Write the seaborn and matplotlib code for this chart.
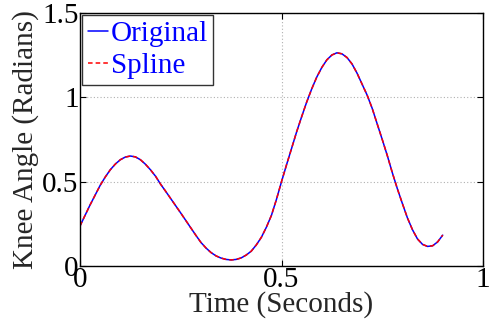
import matplotlib
matplotlib.use("Agg")
import matplotlib.pyplot as plt
import seaborn as sns
import pandas as pd

time_s = [0.0000, 0.0125, 0.0250, 0.0375, 0.0500, 0.0625, 0.0750, 0.0875, 0.1000, 0.1125,
          0.1250, 0.1375, 0.1500, 0.1625, 0.1750, 0.1875, 0.2000, 0.2125, 0.2250, 0.2375,
          0.2500, 0.2625, 0.2750, 0.2875, 0.3000, 0.3125, 0.3250, 0.3375, 0.3500, 0.3625,
          0.3750, 0.3875, 0.4000, 0.4125, 0.4250, 0.4375, 0.4500, 0.4625, 0.4750, 0.4875,
          0.5000, 0.5125, 0.5250, 0.5375, 0.5500, 0.5625, 0.5750, 0.5875, 0.6000, 0.6125,
          0.6250, 0.6375, 0.6500, 0.6625, 0.6750, 0.6875, 0.7000, 0.7125, 0.7250, 0.7375,
          0.7500, 0.7625, 0.7750, 0.7875, 0.8000, 0.8125, 0.8250, 0.8375, 0.8500, 0.8625,
          0.8750, 0.8875, 0.9000]
angle_original = [0.237, 0.300, 0.362, 0.420, 0.478, 0.527, 0.570, 0.604, 0.630, 0.646,
                  0.652, 0.647, 0.630, 0.603, 0.570, 0.532, 0.485, 0.443, 0.400, 0.357,
                  0.314, 0.270, 0.226, 0.182, 0.140, 0.107, 0.080, 0.060, 0.047, 0.039,
                  0.036, 0.039, 0.048, 0.065, 0.088, 0.125, 0.170, 0.230, 0.300, 0.395,
                  0.500, 0.600, 0.697, 0.795, 0.885, 0.972, 1.050, 1.120, 1.177, 1.222,
                  1.251, 1.264, 1.258, 1.236, 1.198, 1.143, 1.078, 1.013, 0.935, 0.842,
                  0.750, 0.655, 0.553, 0.458, 0.370, 0.285, 0.215, 0.160, 0.128, 0.116,
                  0.120, 0.143, 0.183]
angle_spline = list(angle_original)

series_names = ["Original", "Spline"]
xticks = [0, 0.5, 1]
yticks = [0, 0.5, 1, 1.5]

sns.set_theme(style="white")
plt.rcParams["font.family"] = ["Liberation Serif", "DejaVu Serif"]

df = pd.DataFrame({
    "t": time_s * 2,
    "angle": angle_original + angle_spline,
    "series": [series_names[0]] * len(time_s) + [series_names[1]] * len(time_s),
})

fig = plt.figure(figsize=(4.9, 3.28), dpi=100)
ax = fig.add_axes([80 / 490, 1 - 266 / 328, 403 / 490, 253 / 328])

sns.lineplot(data=df, x="t", y="angle", hue="series", style="series",
             palette={"Original": "#0000ff", "Spline": "#ff0000"},
             dashes={"Original": "", "Spline": (3, 2)},
             linewidth=1.1, ax=ax, legend=True)

ax.set_xlim(0, 1)
ax.set_ylim(0, 1.5)
ax.set_xticks(xticks)
ax.set_xticklabels(["0", "0.5", "1"])
ax.set_yticks(yticks)
ax.set_yticklabels(["0", "0.5", "1", "1.5"])
ax.grid(True, linestyle=(0, (1, 2)), color="#b0b0b0", linewidth=0.8)
ax.tick_params(direction="in", length=4, width=0.8, labelsize=21,
               top=True, right=True, bottom=True, left=True, colors="black", pad=1)
for s in ax.spines.values():
    s.set_color("black")
    s.set_linewidth(1.0)

ax.set_xlabel("Time (Seconds)", fontsize=21, labelpad=-2)
ax.set_ylabel("Knee Angle (Radians)", fontsize=21, labelpad=2)

leg = ax.legend(loc="upper left", fontsize=21, frameon=True, fancybox=False,
                edgecolor="black", handlelength=0.7, handletextpad=0.1,
                borderpad=0.18, labelspacing=0.2, borderaxespad=0.08)
leg.get_frame().set_linewidth(1.0)
for txt in leg.get_texts():
    txt.set_color("#0000ff")

fig.savefig("out.png", dpi=100)
